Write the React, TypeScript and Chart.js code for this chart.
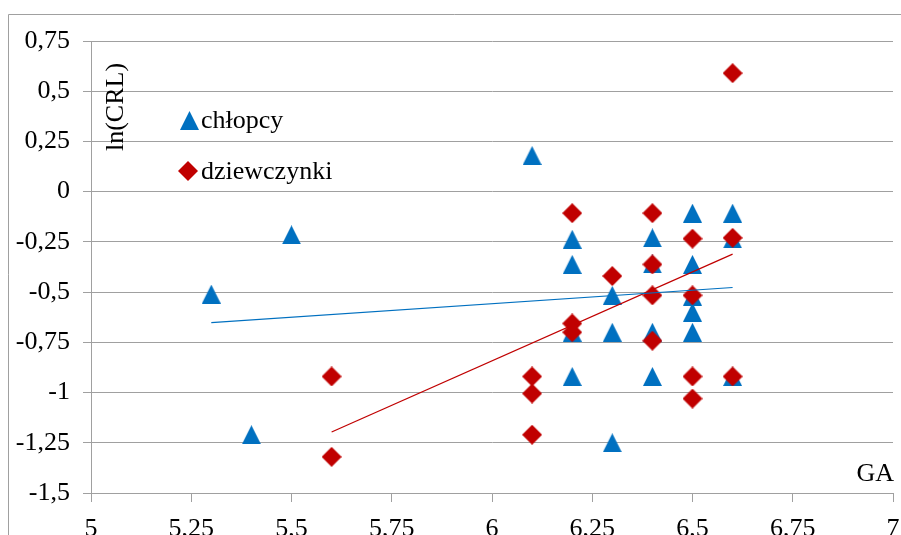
import React, { useEffect, useRef } from "react";
import { Chart, registerables } from "chart.js";

Chart.register(...registerables);

// ---- data ----
const boysX = [5.3, 5.4, 5.5, 6.1, 6.2, 6.2, 6.2, 6.2, 6.3, 6.3, 6.3, 6.4, 6.4, 6.4, 6.4, 6.5, 6.5, 6.5, 6.5, 6.5, 6.6, 6.6, 6.6];
const boysY = [-0.51, -1.21, -0.215, 0.18, -0.237, -0.362, -0.7, -0.92, -0.516, -0.7, -1.25, -0.23, -0.36, -0.7, -0.92, -0.107, -0.362, -0.52, -0.6, -0.7, -0.107, -0.235, -0.92];

const girlsX = [5.6, 5.6, 6.1, 6.1, 6.1, 6.2, 6.2, 6.2, 6.3, 6.4, 6.4, 6.4, 6.4, 6.5, 6.5, 6.5, 6.5, 6.6, 6.6, 6.6];
const girlsY = [-0.92, -1.32, -0.92, -1.005, -1.21, -0.107, -0.656, -0.7, -0.42, -0.107, -0.362, -0.516, -0.742, -0.234, -0.516, -0.92, -1.03, 0.59, -0.23, -0.92];

const boysTrendX = [5.3, 6.6];
const boysTrendY = [-0.652, -0.477];
const girlsTrendX = [5.6, 6.6];
const girlsTrendY = [-1.196, -0.311];

const xTickLabels = ["5", "5,25", "5,5", "5,75", "6", "6,25", "6,5", "6,75", "7"];
const yTickLabels = ["-1,5", "-1,25", "-1", "-0,75", "-0,5", "-0,25", "0", "0,25", "0,5", "0,75"];

const seriesNames = ["chłopcy", "dziewczynki"];
const xTitle = "GA";
const yTitle = "ln(CRL)";

const BLUE = "#0070C0";
const RED = "#C00000";
const GRID = "#A0A0A0";
const FONT = "'Liberation Serif', 'Times New Roman', serif";

function makeTriangle(): HTMLCanvasElement {
  const c = document.createElement("canvas");
  c.width = 19;
  c.height = 19;
  const g = c.getContext("2d")!;
  g.fillStyle = BLUE;
  g.beginPath();
  g.moveTo(9.5, 0);
  g.lineTo(19, 19);
  g.lineTo(0, 19);
  g.closePath();
  g.fill();
  return c;
}

function makeDiamond(): HTMLCanvasElement {
  const c = document.createElement("canvas");
  c.width = 20;
  c.height = 20;
  const g = c.getContext("2d")!;
  g.fillStyle = RED;
  g.beginPath();
  g.moveTo(10, 0);
  g.lineTo(20, 10);
  g.lineTo(10, 20);
  g.lineTo(0, 10);
  g.closePath();
  g.fill();
  return c;
}

const zip = (xs: number[], ys: number[]) => xs.map((x, i) => ({ x, y: ys[i] }));

export default function App() {
  const ref = useRef<HTMLCanvasElement | null>(null);

  useEffect(() => {
    if (!ref.current) return;
    const tri = makeTriangle();
    const dia = makeDiamond();

    const decor = {
      id: "decor",
      afterDraw(chart: any) {
        const ctx = chart.ctx as CanvasRenderingContext2D;
        ctx.save();
        // outer frame
        ctx.strokeStyle = GRID;
        ctx.lineWidth = 1;
        ctx.beginPath();
        ctx.moveTo(8.5, 535);
        ctx.lineTo(8.5, 14.5);
        ctx.lineTo(901, 14.5);
        ctx.stroke();

        ctx.fillStyle = "#000";
        ctx.font = `26px ${FONT}`;
        // y title (rotated)
        ctx.save();
        ctx.translate(116, 107);
        ctx.rotate(-Math.PI / 2);
        ctx.textAlign = "center";
        ctx.textBaseline = "middle";
        ctx.fillText(yTitle, 0, 0);
        ctx.restore();

        // x title
        ctx.textAlign = "right";
        ctx.textBaseline = "alphabetic";
        ctx.fillText(xTitle, 894, 481);

        // legend
        ctx.drawImage(tri, 180, 111);
        ctx.drawImage(dia, 178, 161);
        ctx.textAlign = "left";
        ctx.fillText(seriesNames[0], 201, 128);
        ctx.fillText(seriesNames[1], 201, 179);
        ctx.restore();
      },
    };

    const chart = new Chart(ref.current, {
      type: "scatter",
      data: {
        datasets: [
          {
            type: "line",
            label: "trend " + seriesNames[0],
            data: zip(boysTrendX, boysTrendY),
            borderColor: BLUE,
            borderWidth: 1.2,
            pointRadius: 0,
            showLine: true,
            fill: false,
            order: 0,
          } as any,
          {
            type: "line",
            label: "trend " + seriesNames[1],
            data: zip(girlsTrendX, girlsTrendY),
            borderColor: RED,
            borderWidth: 1.2,
            pointRadius: 0,
            showLine: true,
            fill: false,
            order: 0,
          } as any,
          {
            label: seriesNames[1],
            data: zip(girlsX, girlsY),
            pointStyle: dia,
            backgroundColor: RED,
            borderColor: RED,
            order: 1,
          },
          {
            label: seriesNames[0],
            data: zip(boysX, boysY),
            pointStyle: tri,
            backgroundColor: BLUE,
            borderColor: BLUE,
            order: 2,
          },
        ],
      },
      options: {
        animation: false,
        responsive: false,
        devicePixelRatio: 1,
        layout: { padding: { left: 0, top: 41, right: 8, bottom: 0 } },
        plugins: {
          legend: { display: false },
          tooltip: { enabled: false },
          title: { display: false },
        },
        scales: {
          x: {
            type: "linear",
            min: 5,
            max: 7,
            afterFit: (s: any) => {
              s.height = 42;
              s.paddingLeft = 0;
              s.paddingRight = 0;
            },
            ticks: {
              stepSize: 0.25,
              autoSkip: false,
              maxRotation: 0,
              padding: 12,
              color: "#000",
              font: { family: FONT, size: 26 },
              callback: (_v: any, i: number) => xTickLabels[i],
            },
            grid: {
              drawOnChartArea: false,
              drawTicks: true,
              tickLength: 9,
              color: GRID,
            },
            border: { color: GRID, width: 1 },
          },
          y: {
            type: "linear",
            min: -1.5,
            max: 0.75,
            afterFit: (s: any) => {
              s.width = 91;
              s.paddingTop = 0;
              s.paddingBottom = 0;
            },
            ticks: {
              stepSize: 0.25,
              autoSkip: false,
              padding: 13,
              color: "#000",
              font: { family: FONT, size: 26 },
              callback: (_v: any, i: number) => yTickLabels[i],
            },
            grid: {
              drawOnChartArea: true,
              drawTicks: true,
              tickLength: 8,
              color: GRID,
            },
            border: { color: GRID, width: 1 },
          },
        },
      },
      plugins: [decor],
    });

    return () => chart.destroy();
  }, []);

  return (
    <div style={{ position: "absolute", left: 0, top: 0, width: 901, height: 535 }}>
      <canvas ref={ref} width={901} height={535} style={{ display: "block" }} />
    </div>
  );
}
